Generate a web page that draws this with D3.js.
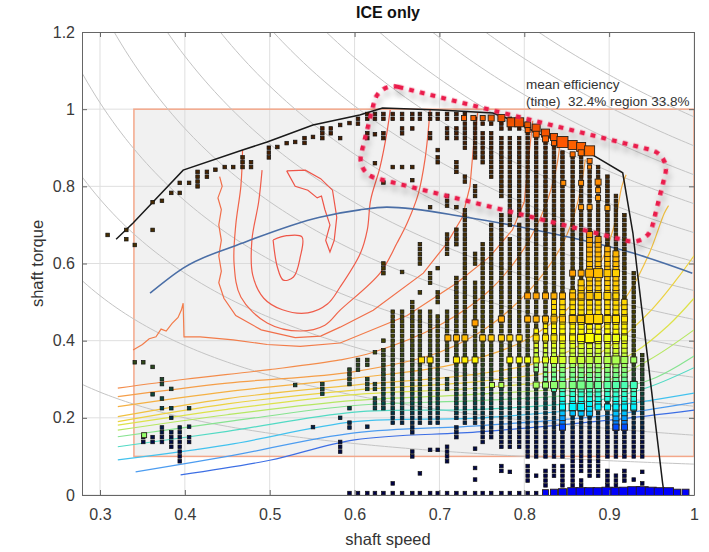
<!DOCTYPE html>
<html>
<head>
<meta charset="utf-8">
<script src="https://cdn.jsdelivr.net/npm/d3@7"></script>
<style>
  body { margin: 0; background: #fff; }
  text { font-family: "Liberation Sans", Arial, sans-serif; }
</style>
</head>
<body>
<div id="chart"></div>
<script>
// ---------------- data ----------------
const xTicks = [0.3, 0.4, 0.5, 0.6, 0.7, 0.8, 0.9, 1];
const yTicks = [0, 0.2, 0.4, 0.6, 0.8, 1, 1.2];

// shaded region: speed from/to, torque from/to
const regionSpeed = [0.34, 1.0];
const regionTorque = [0.1, 1.0];

// iso power curves (torque = P / speed)
const powerLevels = [0.08, 0.155, 0.23, 0.305, 0.38, 0.455, 0.53, 0.605, 0.68, 0.755, 0.83, 0.905, 0.98];

const maxTorque = [[0.319,0.663],[0.339,0.705],[0.398,0.842],[0.468,0.894],[0.497,0.915],[0.551,0.959],
  [0.606,0.985],[0.633,1.003],[0.70,0.998],[0.763,0.99],[0.79,0.968],[0.815,0.938],[0.877,0.886],
  [0.916,0.835],[0.928,0.679],[0.933,0.583],[0.963,0.031],[0.965,0.0]];

const optimalLine = [[0.359,0.523],[0.398,0.588],[0.468,0.653],[0.559,0.72],[0.606,0.739],[0.638,0.746],
  [0.732,0.72],[0.83,0.679],[0.928,0.627],[0.998,0.575]];

// efficiency contours, inner (red) to outer (blue)
const contourColors = ["#ee5548","#ee5548","#ef5c4a","#f0654a","#f16f4a","#f27c4a","#f38c4b","#f59e48",
  "#f5b043","#f1c140","#ecd240","#dde24a","#b6e762","#86e390","#52dac4","#42c2ee","#4c9cf0","#3c6ee4"];
const contourJagged = [false,true,false,false,true,true,false,false,false,false,false,false,false,false,false,false,false,false];
const contours = [
  [[0.504,0.661],[0.52,0.672],[0.538,0.669],[0.536,0.617],[0.528,0.565],[0.516,0.557],[0.509,0.591],[0.504,0.661]],
  [[0.52,0.84],[0.53,0.80],[0.545,0.79],[0.556,0.77],[0.561,0.775],[0.565,0.74],[0.571,0.70],[0.566,0.66],[0.571,0.63],
   [0.576,0.66],[0.579,0.72],[0.574,0.79],[0.56,0.82],[0.542,0.842],[0.52,0.84]],
  [[0.491,0.842],[0.487,0.76],[0.479,0.66],[0.48,0.57],[0.493,0.51],[0.515,0.48],[0.545,0.472],[0.568,0.495],
   [0.583,0.539],[0.607,0.627],[0.615,0.687],[0.619,0.765],[0.630,0.85],[0.638,0.938],[0.642,0.998]],
  [[0.468,0.894],[0.466,0.80],[0.46,0.70],[0.458,0.60],[0.466,0.513],[0.497,0.446],[0.536,0.425],[0.565,0.44],
   [0.583,0.479],[0.63,0.575],[0.65,0.653],[0.662,0.705],[0.675,0.78],[0.683,0.87],[0.689,0.998]],
  [[0.441,0.825],[0.444,0.80],[0.439,0.77],[0.443,0.74],[0.44,0.70],[0.443,0.66],[0.44,0.62],[0.443,0.58],
   [0.44,0.55],[0.446,0.51],[0.46,0.465],[0.49,0.428],[0.53,0.408],[0.56,0.412],[0.583,0.435],[0.622,0.479],
   [0.681,0.575],[0.709,0.653],[0.727,0.72],[0.736,0.80],[0.74,0.90],[0.745,0.99]],
  [[0.339,0.376],[0.35,0.39],[0.358,0.405],[0.366,0.41],[0.372,0.43],[0.378,0.425],[0.385,0.445],[0.392,0.46],
   [0.396,0.48],[0.398,0.497],[0.399,0.41],[0.418,0.41],[0.457,0.402],[0.497,0.39],[0.536,0.385],[0.583,0.394],
   [0.662,0.465],[0.72,0.549],[0.759,0.617],[0.786,0.687],[0.80,0.76],[0.805,0.87],[0.81,0.97]],
  [[0.321,0.277],[0.40,0.30],[0.50,0.325],[0.583,0.35],[0.622,0.37],[0.70,0.44],[0.759,0.53],[0.80,0.64],
   [0.825,0.75],[0.838,0.85],[0.843,0.93]],
  [[0.321,0.255],[0.45,0.29],[0.6,0.32],[0.70,0.37],[0.76,0.44],[0.81,0.54],[0.845,0.65],[0.862,0.75],[0.872,0.87]],
  [[0.321,0.229],[0.45,0.268],[0.6,0.303],[0.72,0.34],[0.80,0.40],[0.85,0.48],[0.885,0.58],[0.905,0.69],[0.915,0.80],[0.92,0.83]],
  [[0.321,0.203],[0.45,0.25],[0.6,0.285],[0.75,0.315],[0.84,0.36],[0.89,0.43],[0.925,0.53],[0.948,0.63],[0.965,0.73],[0.97,0.75]],
  [[0.321,0.19],[0.45,0.236],[0.6,0.272],[0.75,0.295],[0.86,0.335],[0.91,0.40],[0.95,0.48],[0.98,0.56],[1.0,0.62]],
  [[0.321,0.181],[0.45,0.222],[0.6,0.26],[0.75,0.278],[0.87,0.31],[0.93,0.37],[0.97,0.44],[1.0,0.51]],
  [[0.321,0.168],[0.45,0.208],[0.6,0.245],[0.75,0.262],[0.888,0.29],[0.947,0.35],[1.0,0.428]],
  [[0.321,0.151],[0.45,0.19],[0.6,0.232],[0.75,0.245],[0.88,0.265],[0.95,0.30],[1.0,0.36]],
  [[0.321,0.125],[0.45,0.165],[0.6,0.215],[0.75,0.222],[0.888,0.246],[0.947,0.28],[1.0,0.33]],
  [[0.321,0.091],[0.45,0.13],[0.6,0.19],[0.75,0.20],[0.9,0.23],[1.0,0.264]],
  [[0.342,0.06],[0.45,0.10],[0.6,0.161],[0.75,0.18],[0.9,0.207],[1.0,0.24]],
  [[0.395,0.052],[0.5,0.09],[0.6,0.143],[0.75,0.164],[0.9,0.194],[1.0,0.22]]
];

// small operating points: speed column, torque ranges filled on the logging grid
const torqueGrid = 0.0125;
const dotCols = [
  [0.309,[[0.674,0.674]]],
  [0.331,[[0.663,0.663],[0.687,0.687]]],
  [0.341,[[0.648,0.648],[0.344,0.344]]],
  [0.351,[[0.344,0.344],[0.137,0.155]]],
  [0.362,[[0.687,0.687],[0.759,0.759],[0.332,0.332],[0.261,0.261],[0.137,0.15]]],
  [0.373,[[0.757,0.768],[0.285,0.30],[0.25,0.25],[0.225,0.225],[0.137,0.176]]],
  [0.384,[[0.783,0.783],[0.275,0.275],[0.225,0.225],[0.2,0.2],[0.125,0.165]]],
  [0.394,[[0.783,0.783],[0.809,0.809],[0.087,0.177]]],
  [0.405,[[0.809,0.809],[0.225,0.225],[0.177,0.177],[0.137,0.15]]],
  [0.415,[[0.80,0.84]]],
  [0.426,[[0.825,0.838]]],
  [0.436,[[0.843,0.843]]],
  [0.447,[[0.85,0.85]]],
  [0.457,[[0.85,0.85]]],
  [0.468,[[0.855,0.88]]],
  [0.478,[[0.855,0.868]]],
  [0.499,[[0.876,0.902]]],
  [0.509,[[0.902,0.902]]],
  [0.520,[[0.912,0.912]]],
  [0.530,[[0.915,0.915],[0.285,0.285]]],
  [0.541,[[0.915,0.928]]],
  [0.551,[[0.928,0.928],[0.176,0.176]]],
  [0.562,[[0.92,0.954],[0.26,0.285]]],
  [0.572,[[0.938,0.954]]],
  [0.583,[[0.959,0.959],[0.925,0.925],[0.2,0.2],[0.118,0.14]]],
  [0.594,[[0.964,0.964],[0.285,0.32],[0.225,0.225],[0.176,0.19],[0.005,0.005]]],
  [0.604,[[0.964,0.975],[0.32,0.345],[0.005,0.005]]],
  [0.615,[[0.975,0.99],[0.93,0.94],[0.34,0.35],[0.28,0.305],[0.177,0.177],[0.005,0.005]]],
  [0.624,[[0.97,0.99],[0.935,0.935],[0.86,0.86],[0.37,0.37],[0.27,0.29],[0.22,0.25],[0.005,0.005]]],
  [0.634,[[0.975,0.99],[0.925,0.935],[0.81,0.81],[0.578,0.60],[0.40,0.40],[0.22,0.375],[0.005,0.005]]],
  [0.645,[[0.975,0.99],[0.85,0.85],[0.19,0.48],[0.03,0.03],[0.005,0.005]]],
  [0.656,[[0.975,0.99],[0.94,0.955],[0.85,0.85],[0.578,0.578],[0.19,0.48],[0.005,0.005]]],
  [0.668,[[0.975,0.99],[0.945,0.955],[0.85,0.85],[0.816,0.816],[0.16,0.50],[0.10,0.11],[0.005,0.005]]],
  [0.677,[[0.975,0.99],[0.60,0.65],[0.52,0.53],[0.19,0.47],[0.056,0.056],[0.005,0.005]]],
  [0.689,[[0.975,0.99],[0.92,0.94],[0.746,0.746],[0.55,0.58],[0.19,0.48],[0.117,0.117],[0.005,0.005]]],
  [0.698,[[0.975,0.99],[0.894,0.894],[0.86,0.87],[0.588,0.588],[0.50,0.52],[0.19,0.46],[0.117,0.117],[0.005,0.005]]],
  [0.709,[[0.975,0.99],[0.93,0.95],[0.746,0.78],[0.627,0.674],[0.35,0.48],[0.28,0.30],[0.09,0.13],[0.005,0.005]]],
  [0.72,[[0.975,0.99],[0.92,0.95],[0.835,0.86],[0.746,0.746],[0.648,0.687],[0.20,0.56],[0.15,0.18],[0.005,0.005]]],
  [0.73,[[0.965,0.985],[0.90,0.95],[0.81,0.83],[0.60,0.74],[0.19,0.59],[0.005,0.005]]],
  [0.742,[[0.965,0.98],[0.88,0.95],[0.78,0.80],[0.60,0.62],[0.185,0.55],[0.12,0.12],[0.07,0.07],[0.04,0.04],[0.005,0.005]]],
  [0.751,[[0.96,0.98],[0.86,0.94],[0.56,0.65],[0.14,0.55],[0.005,0.005]]],
  [0.761,[[0.96,0.98],[0.82,0.94],[0.15,0.70],[0.005,0.005]]],
  [0.773,[[0.955,0.975],[0.78,0.93],[0.12,0.72],[0.06,0.08],[0.005,0.005]]],
  [0.783,[[0.95,0.97],[0.70,0.93],[0.12,0.66],[0.06,0.06],[0.005,0.005]]],
  [0.794,[[0.945,0.965],[0.72,0.93],[0.13,0.70],[0.005,0.005]]],
  [0.804,[[0.94,0.96],[0.10,0.92],[0.04,0.07],[0.005,0.005]]],
  [0.814,[[0.10,0.93],[0.05,0.05],[0.005,0.005]]],
  [0.825,[[0.10,0.91],[0.03,0.06]]],
  [0.835,[[0.10,0.90],[0.05,0.07]]],
  [0.845,[[0.10,0.89],[0.02,0.07]]],
  [0.857,[[0.08,0.88],[0.02,0.06]]],
  [0.867,[[0.06,0.87],[0.02,0.04]]],
  [0.877,[[0.05,0.86]]],
  [0.887,[[0.05,0.85]]],
  [0.898,[[0.10,0.83],[0.03,0.06]]],
  [0.908,[[0.10,0.77],[0.03,0.05]]],
  [0.918,[[0.10,0.72],[0.04,0.06]]],
  [0.929,[[0.10,0.57],[0.04,0.04]]],
  [0.939,[[0.10,0.36],[0.06,0.06],[0.03,0.03]]]
];

// larger markers: [speed, torque, size px, efficiency level]
const topMarkers = [
  [0.729,0.977,5,0.78],[0.740,0.977,5,0.78],[0.751,0.977,5,0.78],[0.761,0.977,6,0.78],[0.773,0.977,7,0.79],
  [0.785,0.966,9,0.79],[0.794,0.966,9,0.79],[0.804,0.959,6,0.78],[0.804,0.946,5,0.78],[0.814,0.951,8,0.79],
  [0.814,0.935,6,0.78],[0.825,0.938,8,0.79],[0.825,0.923,6,0.78],[0.835,0.928,7,0.79],[0.835,0.912,5,0.78],
  [0.845,0.915,11,0.79],[0.857,0.907,9,0.78],[0.857,0.883,5,0.77],[0.867,0.902,9,0.78],[0.867,0.887,6,0.77],
  [0.877,0.892,10,0.77],[0.877,0.866,5,0.76],[0.877,0.85,4,0.75],
  [0.846,0.809,5,0.74],[0.867,0.809,5,0.74],[0.887,0.811,6,0.74],[0.887,0.79,5,0.73],[0.887,0.77,5,0.73],
  [0.867,0.746,5,0.73],[0.898,0.744,5,0.72],[0.877,0.746,5,0.73],[0.742,0.446,6,0.72],[0.352,0.155,5,0.52]
];

const rowTorque = [0.575, 0.516, 0.456, 0.407, 0.35, 0.285, 0.228, 0.176];
const rowSpeeds = [
  [0.857,0.867,0.877,0.887,0.898,0.908],
  [0.804,0.814,0.825,0.835,0.845,0.857,0.867,0.877,0.887,0.898,0.908],
  [0.773,0.804,0.814,0.825,0.835,0.845,0.857,0.867,0.877,0.887,0.898,0.908,0.918],
  [0.71,0.72,0.73,0.751,0.761,0.773,0.783,0.794,0.814,0.825,0.835,0.845,0.857,0.867,0.877,0.887,0.898,0.908,0.918],
  [0.679,0.689,0.72,0.73,0.742,0.783,0.794,0.804,0.814,0.825,0.835,0.845,0.857,0.867,0.877,0.887,0.898,0.908,0.918,0.929],
  [0.762,0.773,0.814,0.825,0.835,0.845,0.857,0.867,0.877,0.887,0.898,0.908,0.918,0.929],
  [0.845,0.857,0.867,0.887,0.898,0.908,0.918,0.929],
  [0.845,0.908,0.918]
];
const rowSizes = [
  [6,6,8,9,7,7],
  [6,6,6,6,6,6,6,7,7,7,6],
  [6,6,6,6,6,6,7,7,9,9,7,7,6],
  [6,6,6,6,6,6,6,6,6,6,6,6,6,7,9,7,7,7,6],
  [6,6,6,6,6,6,6,6,6,6,7,7,7,7,7,7,7,8,7,6],
  [5,5,6,6,7,7,7,8,7,7,7,7,7,7],
  [6,7,7,6,6,6,6,6],
  [6,6,6]
];
const rowEff = [[0.72,0.67],[0.72,0.665],[0.71,0.65],[0.70,0.60],[0.66,0.53],[0.55,0.44],[0.37,0.36],[0.2,0.2]];

// stacks of medium markers: [speed, torque from, torque to, size px]
const stacks = [
  [0.814,0.33,0.42,4.5],[0.825,0.30,0.45,4.5],[0.835,0.27,0.50,5],[0.845,0.18,0.50,5.5],[0.857,0.21,0.52,5.5],
  [0.867,0.21,0.55,6],[0.877,0.21,0.68,6],[0.887,0.24,0.66,6],[0.898,0.25,0.64,5.5],[0.908,0.18,0.62,6],
  [0.918,0.18,0.50,5.5],[0.929,0.22,0.29,5.5]
];

const bottomTorque = 0.006;
const bottomSpeeds = [0.825,0.835,0.845,0.857,0.867,0.877,0.887,0.898,0.908,0.918,0.929,0.939,0.949,0.959,0.97,0.98,0.99];
const bottomSizes = [6,7,8,10,10,10,10,11,10,11,12,12,11,10,10,7,7];

// efficiency level against torque (colour of stacked points)
const effTorque = [0.0, 0.15, 0.2, 0.228, 0.26, 0.285, 0.32, 0.35, 0.41, 0.46, 0.52, 0.6, 0.7, 0.85, 0.95];
const effLevel  = [0.12, 0.17, 0.28, 0.36, 0.42, 0.46, 0.50, 0.55, 0.62, 0.65, 0.67, 0.69, 0.72, 0.75, 0.78];

// ---------------- chart ----------------
const W = 709, H = 552;
const pL = 82, pR = 694, pT = 32, pB = 495;

const x = d3.scaleLinear().domain([0.2788, 1]).range([pL, pR]);
const y = d3.scaleLinear().domain([0, 1.2]).range([pB, pT]);

const jet = d3.scaleLinear()
  .domain([0, 0.125, 0.375, 0.625, 0.875, 1])
  .range(["#00008f", "#0000ff", "#00ffff", "#ffff00", "#ff0000", "#800000"]);
const effOf = d3.scaleLinear().domain(effTorque).range(effLevel).clamp(true);

const svg = d3.select("#chart").append("svg")
  .attr("width", W)
  .attr("height", H);

const defs = svg.append("defs");
defs.append("clipPath").attr("id", "clip")
  .append("rect")
  .attr("x", pL).attr("y", pT)
  .attr("width", pR - pL).attr("height", pB - pT);
let shadow = defs.append("filter").attr("id", "shadow")
  .attr("x", "-20%").attr("y", "-30%").attr("width", "140%").attr("height", "160%");
shadow.append("feDropShadow")
  .attr("dx", 3).attr("dy", 5).attr("stdDeviation", 3)
  .attr("flood-color", "#000").attr("flood-opacity", 0.35);

let plot = svg.append("g").attr("clip-path", "url(#clip)");

// grid
plot.selectAll(".gx").data(xTicks).enter().append("line")
  .attr("x1", d => x(d)).attr("x2", d => x(d))
  .attr("y1", pT).attr("y2", pB)
  .style("stroke", "#dfdfdf").style("stroke-width", 1);
plot.selectAll(".gy").data(yTicks).enter().append("line")
  .attr("x1", pL).attr("x2", pR)
  .attr("y1", d => y(d)).attr("y2", d => y(d))
  .style("stroke", "#dfdfdf").style("stroke-width", 1);

// shaded region
plot.append("rect")
  .attr("x", x(regionSpeed[0]))
  .attr("y", y(regionTorque[1]))
  .attr("width", x(regionSpeed[1]) - x(regionSpeed[0]))
  .attr("height", y(regionTorque[0]) - y(regionTorque[1]))
  .style("fill", "#d6d6d6")
  .style("fill-opacity", 0.33)
  .style("stroke", "#f3a78a")
  .style("stroke-width", 1.5);

// iso power curves
let powerLine = d3.line().x(d => x(d[0])).y(d => y(d[1]));
plot.selectAll(".power").data(powerLevels).enter().append("path")
  .attr("d", p => powerLine(d3.range(0.27, 1.005, 0.005).map(s => [s, p / s])))
  .style("fill", "none")
  .style("stroke", "#c4c4c4")
  .style("stroke-width", 1);

// efficiency contours
contours.forEach(function (c, i) {
  let line = d3.line()
    .x(d => x(d[0])).y(d => y(d[1]))
    .curve(contourJagged[i] ? d3.curveLinear : d3.curveCatmullRom);
  plot.append("path")
    .attr("d", line(c))
    .style("fill", "none")
    .style("stroke", contourColors[i])
    .style("stroke-width", 1.2);
});

// optimal line and max torque line
let simpleLine = d3.line().x(d => x(d[0])).y(d => y(d[1])).curve(d3.curveMonotoneX);
plot.append("path")
  .attr("d", simpleLine(optimalLine))
  .style("fill", "none")
  .style("stroke", "#4a6ea6")
  .style("stroke-width", 1.6);
plot.append("path")
  .attr("d", d3.line().x(d => x(d[0])).y(d => y(d[1]))(maxTorque))
  .style("fill", "none")
  .style("stroke", "#1a1a1a")
  .style("stroke-width", 1.5);

// small operating points
let dots = [];
dotCols.forEach(function (col) {
  col[1].forEach(function (r) {
    if (r[0] === r[1]) {
      dots.push([col[0], r[0]]);
    } else {
      for (let k = Math.round(r[0] / torqueGrid); k <= Math.round(r[1] / torqueGrid); k++) {
        dots.push([col[0], k * torqueGrid]);
      }
    }
  });
});
plot.selectAll(".dot").data(dots).enter().append("rect")
  .attr("x", d => x(d[0]) - 1.8)
  .attr("y", d => y(d[1]) - 1.8)
  .attr("width", 3.6)
  .attr("height", 3.6)
  .style("fill", d => d3.interpolateRgb(jet(effOf(d[1])), "#000")(0.72))
  .style("stroke", "#111")
  .style("stroke-width", 0.7);

function marker(s, t, size, eff) {
  plot.append("rect")
    .attr("x", x(s) - size / 2)
    .attr("y", y(t) - size / 2)
    .attr("width", size)
    .attr("height", size)
    .style("fill", jet(eff))
    .style("stroke", "#2b2118")
    .style("stroke-width", 0.9);
}

// stacked medium markers
stacks.forEach(function (st) {
  for (let k = Math.round(st[1] / torqueGrid); k <= Math.round(st[2] / torqueGrid); k++) {
    marker(st[0], k * torqueGrid, st[3], effOf(k * torqueGrid));
  }
});

// rows of larger markers
rowTorque.forEach(function (t, i) {
  let n = rowSpeeds[i].length;
  rowSpeeds[i].forEach(function (s, j) {
    let e = rowEff[i][0] + (rowEff[i][1] - rowEff[i][0]) * (n > 1 ? j / (n - 1) : 0);
    marker(s, t, rowSizes[i][j], e);
  });
});

topMarkers.forEach(m => marker(m[0], m[1], m[2], m[3]));

bottomSpeeds.forEach((s, i) => marker(s, bottomTorque, bottomSizes[i], 0.12));

// axes, MATLAB style box with inward ticks
let fmt = d => (d === 0 ? "0" : d === 1 ? "1" : d.toFixed(1));

let xAxis = svg.append("g")
  .attr("transform", "translate(0," + pB + ")")
  .call(d3.axisBottom(x).tickValues(xTicks).tickFormat(fmt).tickSizeInner(-5).tickSizeOuter(0).tickPadding(14));
let yAxis = svg.append("g")
  .attr("transform", "translate(" + pL + ",0)")
  .call(d3.axisLeft(y).tickValues(yTicks).tickFormat(fmt).tickSizeInner(-5).tickSizeOuter(0).tickPadding(7));
let xTop = svg.append("g")
  .attr("transform", "translate(0," + pT + ")")
  .call(d3.axisTop(x).tickValues(xTicks).tickFormat("").tickSizeInner(-5).tickSizeOuter(0));
let yRight = svg.append("g")
  .attr("transform", "translate(" + pR + ",0)")
  .call(d3.axisRight(y).tickValues(yTicks).tickFormat("").tickSizeInner(-5).tickSizeOuter(0));

[xAxis, yAxis, xTop, yRight].forEach(function (a) {
  a.select(".domain").style("stroke", "#666").style("stroke-width", 1);
  a.selectAll(".tick line").style("stroke", "#666");
  a.selectAll(".tick text")
    .style("font-size", "16px")
    .style("fill", "#3a3a3a")
    .style("font-family", "'Liberation Sans', Arial, sans-serif");
});

// texts
svg.append("text")
  .attr("x", (pL + pR) / 2)
  .attr("y", 18)
  .text("ICE only")
  .style("text-anchor", "middle")
  .style("font-size", "16px")
  .style("font-weight", 700)
  .style("fill", "#111");

svg.append("text")
  .attr("x", (pL + pR) / 2)
  .attr("y", 545)
  .text("shaft speed")
  .style("text-anchor", "middle")
  .style("font-size", "16.5px")
  .style("fill", "#333");

svg.append("text")
  .attr("transform", "translate(43," + ((pT + pB) / 2) + ") rotate(-90)")
  .text("shaft torque")
  .style("text-anchor", "middle")
  .style("font-size", "16.5px")
  .style("fill", "#333");

svg.append("text")
  .attr("x", x(0.802))
  .attr("y", y(1.052))
  .text("mean efficiency")
  .style("font-size", "13.5px")
  .style("fill", "#333");
svg.append("text")
  .attr("x", x(0.802))
  .attr("y", y(1.008))
  .text("(time)  32.4% region 33.8%")
  .style("white-space", "pre")
  .style("font-size", "13.5px")
  .style("fill", "#333");

// highlight around the top operating band
let hx = x(0.787), hy = y(0.858);
svg.append("rect")
  .attr("x", hx - 150)
  .attr("y", hy - 47)
  .attr("width", 300)
  .attr("height", 94)
  .attr("rx", 20)
  .attr("ry", 20)
  .attr("transform", "rotate(14," + hx + "," + hy + ")")
  .attr("filter", "url(#shadow)")
  .style("fill", "none")
  .style("stroke", "#ea1a4c")
  .style("stroke-width", 4.5)
  .style("stroke-dasharray", "5 6");
</script>
</body>
</html>
